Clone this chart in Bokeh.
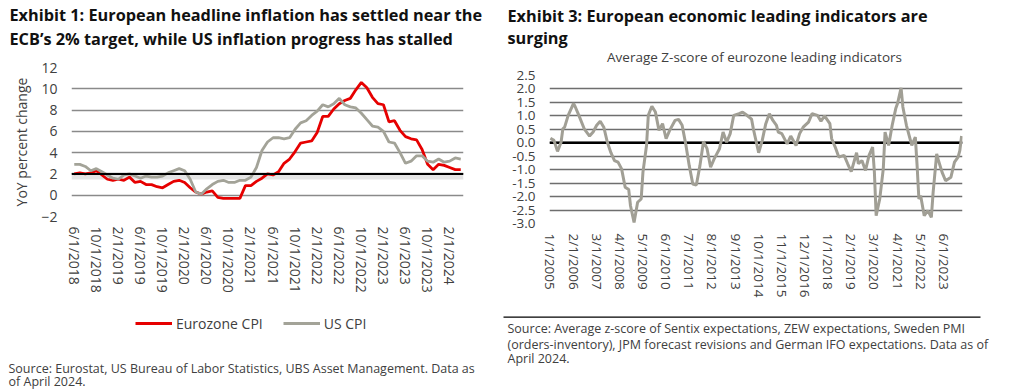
import math
from bokeh.plotting import figure
from bokeh.models import (Range1d, FixedTicker, Span, Legend, LegendItem,
                          PrintfTickFormatter)
from bokeh.layouts import row, column
from bokeh.core.properties import value
from bokeh.embed import file_html
from bokeh.resources import INLINE

FONT = "Open Sans"
TXT = "#404040"
TITLE_C = "#111111"

# ---------------- Exhibit 1 data (monthly, Jun 2018 .. Apr 2024) ----------------
eu_cpi = [2.0, 2.1, 2.0, 2.1, 2.3, 1.9, 1.5,
          1.4, 1.5, 1.4, 1.7, 1.2, 1.3, 1.0, 1.0, 0.8, 0.7, 1.0, 1.3,
          1.4, 1.2, 0.7, 0.3, 0.1, 0.3, 0.4, -0.2, -0.3, -0.3, -0.3, -0.3,
          0.9, 0.9, 1.3, 1.6, 2.0, 1.9, 2.2, 3.0, 3.4, 4.1, 4.9, 5.0,
          5.1, 5.9, 7.4, 7.4, 8.1, 8.6, 8.9, 9.1, 9.9, 10.6, 10.1, 9.2,
          8.6, 8.5, 6.9, 7.0, 6.1, 5.5, 5.3, 5.2, 4.3, 2.9, 2.4, 2.9,
          2.8, 2.6, 2.4, 2.4]
us_cpi = [2.9, 2.9, 2.7, 2.3, 2.5, 2.2, 1.9,
          1.6, 1.5, 1.9, 2.0, 1.8, 1.6, 1.8, 1.7, 1.7, 1.8, 2.1, 2.3,
          2.5, 2.3, 1.5, 0.3, 0.1, 0.6, 1.0, 1.3, 1.4, 1.2, 1.2, 1.4,
          1.4, 1.7, 2.6, 4.2, 5.0, 5.4, 5.4, 5.3, 5.4, 6.2, 6.8, 7.0,
          7.5, 7.9, 8.5, 8.3, 8.6, 9.1, 8.5, 8.3, 8.2, 7.7, 7.1, 6.5,
          6.4, 6.0, 5.0, 4.9, 4.0, 3.0, 3.2, 3.7, 3.7, 3.2, 3.1, 3.4,
          3.1, 3.2, 3.5, 3.4]
cpi_start = (2018, 6)
cpi_x_labels = ["6/1/2018", "10/1/2018", "2/1/2019", "6/1/2019", "10/1/2019",
                "2/1/2020", "6/1/2020", "10/1/2020", "2/1/2021", "6/1/2021",
                "10/1/2021", "2/1/2022", "6/1/2022", "10/1/2022", "2/1/2023",
                "6/1/2023", "10/1/2023", "2/1/2024"]
cpi_y_ticks = [-2, 0, 2, 4, 6, 8, 10, 12]
ecb_target = 2.0
cpi_series_names = ["Eurozone CPI", "US CPI"]

# ---------------- Exhibit 3 data ----------------
z_dates = ["2005-01", "2005-03", "2005-05", "2005-07", "2005-08", "2005-09", "2005-11",
           "2006-02", "2006-03", "2006-05", "2006-08", "2006-11", "2007-01", "2007-03",
           "2007-05", "2007-07", "2007-09", "2007-11", "2008-01", "2008-03", "2008-05",
           "2008-07", "2008-09", "2008-10", "2008-12", "2009-02", "2009-04", "2009-05",
           "2009-07", "2009-08", "2009-10", "2009-12", "2010-02", "2010-04", "2010-06",
           "2010-08", "2010-11", "2011-01", "2011-03", "2011-05", "2011-07", "2011-09",
           "2011-11", "2012-01", "2012-03", "2012-05", "2012-07", "2012-09", "2012-12",
           "2013-02", "2013-04", "2013-06", "2013-08", "2013-11", "2014-01", "2014-03",
           "2014-06", "2014-07", "2014-10", "2014-12", "2015-02", "2015-04", "2015-06",
           "2015-08", "2015-09", "2015-11", "2016-02", "2016-04", "2016-07", "2016-09",
           "2016-11", "2017-02", "2017-04", "2017-07", "2017-09", "2017-11", "2018-02",
           "2018-03", "2018-05", "2018-07", "2018-10", "2018-12", "2019-02", "2019-05",
           "2019-06", "2019-08", "2019-10", "2019-12", "2020-02", "2020-03", "2020-04",
           "2020-06", "2020-08", "2020-09", "2020-11", "2021-01", "2021-03", "2021-04",
           "2021-06", "2021-07", "2021-09", "2021-11", "2021-12", "2022-02", "2022-03",
           "2022-04", "2022-05", "2022-07", "2022-09", "2022-11", "2022-12", "2023-02",
           "2023-03", "2023-05", "2023-07", "2023-10", "2023-12", "2024-02", "2024-03",
           "2024-04"]
z_values = [0.17, 0.09, -0.32, 0.02, 0.52, 0.58, 1.02,
            1.46, 1.33, 1.02, 0.52, 0.25, 0.40, 0.65,
            0.80, 0.58, 0.02, -0.37, -0.66, -0.72, -0.97,
            -1.65, -1.74, -2.34, -2.96, -2.21, -2.09, -1.09,
            -0.10, 1.02, 1.36, 1.14, 0.46, 0.71, 0.15,
            0.46, 0.83, 0.87, 0.65, -0.04, -0.85, -1.53,
            -1.57, -0.85, 0.05, -0.22, -0.91, -0.60, -0.22,
            0.40, 0.02, 0.34, 1.02, 1.08, 1.14, 1.04,
            0.88, 0.52, -0.37, 0.09, 0.71, 1.08, 0.83,
            0.65, 0.40, 0.34, -0.04, 0.25, -0.10, 0.34,
            0.58, 0.77, 1.08, 1.02, 0.80, 1.00, 0.71,
            0.15, -0.16, -0.53, -0.47, -0.78, -1.07, -0.37,
            -0.78, -0.66, -1.03, -0.47, -0.16, -1.09, -2.71,
            -2.09, -0.97, 0.40, -0.10, 0.65, 1.27, 1.46,
            2.04, 1.33, 0.65, 0.15, -0.10, 0.21, -0.85,
            -2.09, -1.97, -2.71, -2.52, -2.77, -1.84, -0.41,
            -0.66, -1.09, -1.41, -1.28, -0.72, -0.53, -0.29,
            0.25]
z_start = (2005, 1)
z_end = "2024-04"
z_x_labels = ["1/1/2005", "2/1/2006", "3/1/2007", "4/1/2008", "5/1/2009", "6/1/2010",
              "7/1/2011", "8/1/2012", "9/1/2013", "10/1/2014", "11/1/2015", "12/1/2016",
              "1/1/2018", "2/1/2019", "3/1/2020", "4/1/2021", "5/1/2022", "6/1/2023"]
z_y_ticks = [-3.0, -2.5, -2.0, -1.5, -1.0, -0.5, 0.0, 0.5, 1.0, 1.5, 2.0, 2.5]

# ---------------- texts ----------------
title1 = ["Exhibit 1: European headline inflation has settled near the",
          "ECB\u2019s 2% target, while US inflation progress has stalled"]
source1 = ["Source: Eurostat, US Bureau of Labor Statistics, UBS Asset Management. Data as",
           "of April 2024."]
title3 = ["Exhibit 3: European economic leading indicators are", "surging"]
subtitle3 = "Average Z-score of eurozone leading indicators"
source3 = ["Source: Average z-score of Sentix expectations, ZEW expectations, Sweden PMI",
           "(orders-inventory), JPM forecast revisions and German IFO expectations. Data as of",
           "April 2024."]


def idx_from_label(lab, start):
    m, d, y = lab.split("/")
    return (int(y) - start[0]) * 12 + int(m) - start[1]


def idx_from_ym(s, start):
    y, m = s.split("-")
    return (int(y) - start[0]) * 12 + int(m) - start[1]


def no_align(p):
    if "frame_align" in p.properties():
        p.frame_align = False


def text_panel(w, h):
    """A blank figure whose data space equals its pixel box."""
    p = figure(width=w, height=h, output_backend="svg", toolbar_location=None,
               x_range=Range1d(0, w), y_range=Range1d(0, h), title=None,
               x_axis_location=None, y_axis_location=None,
               min_border=0, min_border_left=0, min_border_right=0,
               min_border_top=0, min_border_bottom=0)
    p.outline_line_color = None
    p.grid.visible = False
    p.background_fill_color = None
    p.border_fill_color = None
    no_align(p)
    return p


def put_text(p, h, xs, ys_top, texts, size, bold=False, color=TXT, align="left",
             angle=0.0):
    p.text(x=xs, y=[h - y for y in ys_top], text=texts,
           text_font=value(FONT), text_font_size=value(size),
           text_font_style="bold" if bold else "normal",
           text_color=color, text_align=align, text_baseline="alphabetic", angle=angle)


def style_axes(p, tick_size):
    for ax in (p.xaxis, p.yaxis):
        ax.axis_line_color = None
        ax.major_tick_line_color = None
        ax.minor_tick_line_color = None
        ax.major_tick_in = 0
        ax.major_tick_out = 0
        ax.major_label_text_font = FONT
        ax.major_label_text_font_size = tick_size
        ax.major_label_text_color = TXT


# ================= Left column (x 0..500) =================
LW = 500
T1H, C1H, F1H, Y1W = 57, 243, 89, 38

t1 = text_panel(LW, T1H)
put_text(t1, T1H, [9, 9], [14, 38.5], title1, "16.3px", bold=True, color=TITLE_C)

y1 = text_panel(Y1W, C1H)
put_text(y1, C1H, [21], [84.5], ["YoY percent change"], "14px", align="center",
         angle=math.pi / 2)

n1 = len(eu_cpi)
x1 = list(range(n1))
c1 = figure(width=LW - Y1W, height=C1H, output_backend="svg", toolbar_location=None,
            x_range=Range1d(-0.5, n1 - 0.5),
            y_range=Range1d(cpi_y_ticks[0], cpi_y_ticks[-1]),
            min_border_left=30, min_border_right=37, min_border_top=10, min_border_bottom=84)
no_align(c1)
c1.outline_line_color = None
c1.xgrid.visible = False
c1.ygrid.ticker = FixedTicker(ticks=cpi_y_ticks)
c1.ygrid.grid_line_color = "#8a8a8a"
c1.ygrid.grid_line_width = 1.3
style_axes(c1, "14px")
c1.yaxis.ticker = FixedTicker(ticks=cpi_y_ticks)
c1.yaxis.major_label_standoff = 14
ticks1 = [idx_from_label(l, cpi_start) for l in cpi_x_labels]
c1.xaxis.ticker = FixedTicker(ticks=ticks1)
c1.xaxis.major_label_overrides = {t: l for t, l in zip(ticks1, cpi_x_labels)}
c1.xaxis.major_label_orientation = "vertical"
c1.xaxis.major_label_standoff = 10

c1.add_layout(Span(location=ecb_target - 0.3, dimension="width", line_color="#d9d9d9",
                   line_width=5, line_alpha=0.7, level="underlay"))
EU_COL, US_COL = "#e60000", "#a3a398"
c1.line(x1, eu_cpi, line_color=EU_COL, line_width=2.8)
c1.line(x1, us_cpi, line_color=US_COL, line_width=2.8)
c1.add_layout(Span(location=ecb_target, dimension="width", line_color="black", line_width=2))

f1 = text_panel(LW, F1H)
# legend keys: renderers kept outside the visible box, only their legend swatches show
k_eu = f1.line([-30, -20], [-30, -30], line_color=EU_COL, line_width=2.8)
k_us = f1.line([-30, -20], [-30, -30], line_color=US_COL, line_width=2.8)
leg = Legend(items=[LegendItem(label=cpi_series_names[0], renderers=[k_eu]),
                    LegendItem(label=cpi_series_names[1], renderers=[k_us])],
             orientation="horizontal", location=(135, 56.5),
             glyph_width=37, glyph_height=14, label_height=14, label_standoff=4,
             spacing=20, padding=0, margin=0, border_line_color=None,
             background_fill_alpha=0, label_text_font=FONT,
             label_text_font_size="14px", label_text_color=TXT)
f1.add_layout(leg)
put_text(f1, F1H, [8, 8], [67.5, 81], source1, "12.5px")

left = column(t1, row(y1, c1, spacing=0), f1, spacing=0)

# ================= Right column (x 500..1024) =================
RW = 524
T2H, C2H, F2H = 65, 242, 82

t2 = text_panel(RW, T2H)
put_text(t2, T2H, [7, 7], [15.3, 37], title3, "16.3px", bold=True, color=TITLE_C)
put_text(t2, T2H, [254], [56.3], [subtitle3], "13.5px", align="center")

n2 = idx_from_ym(z_end, z_start) + 1
x2 = [idx_from_ym(d, z_start) for d in z_dates]
c2 = figure(width=RW, height=C2H, output_backend="svg", toolbar_location=None,
            x_range=Range1d(-0.5, n2 - 0.5),
            y_range=Range1d(z_y_ticks[0], z_y_ticks[-1]),
            min_border_left=49, min_border_right=62, min_border_top=10, min_border_bottom=84)
no_align(c2)
c2.outline_line_color = None
c2.xgrid.visible = False
c2.ygrid.ticker = FixedTicker(ticks=z_y_ticks)
c2.ygrid.grid_line_color = "#6e6e6e"
c2.ygrid.grid_line_width = 1.3
style_axes(c2, "13.5px")
c2.yaxis.ticker = FixedTicker(ticks=z_y_ticks)
c2.yaxis.formatter = PrintfTickFormatter(format="%.1f")
c2.yaxis.major_label_standoff = 14
ticks2 = [idx_from_label(l, z_start) for l in z_x_labels]
c2.xaxis.ticker = FixedTicker(ticks=ticks2)
c2.xaxis.major_label_overrides = {t: l for t, l in zip(ticks2, z_x_labels)}
c2.xaxis.major_label_orientation = "vertical"
c2.xaxis.major_label_standoff = 10

c2.add_layout(Span(location=0, dimension="width", line_color="black", line_width=2.5,
                   level="underlay"))
c2.line(x2, z_values, line_color="#a19f95", line_width=3)

f2 = text_panel(RW, F2H)
f2.segment(x0=[3], y0=[F2H - 9.7], x1=[480], y1=[F2H - 9.7],
           line_color="black", line_width=1.3)
put_text(f2, F2H, [7, 7, 7], [21, 36.5, 50.5], source3, "12.5px")

right = column(t2, c2, f2, spacing=0)

layout = row(left, right, spacing=0)
open("out.html", "w").write(file_html(layout, INLINE))
